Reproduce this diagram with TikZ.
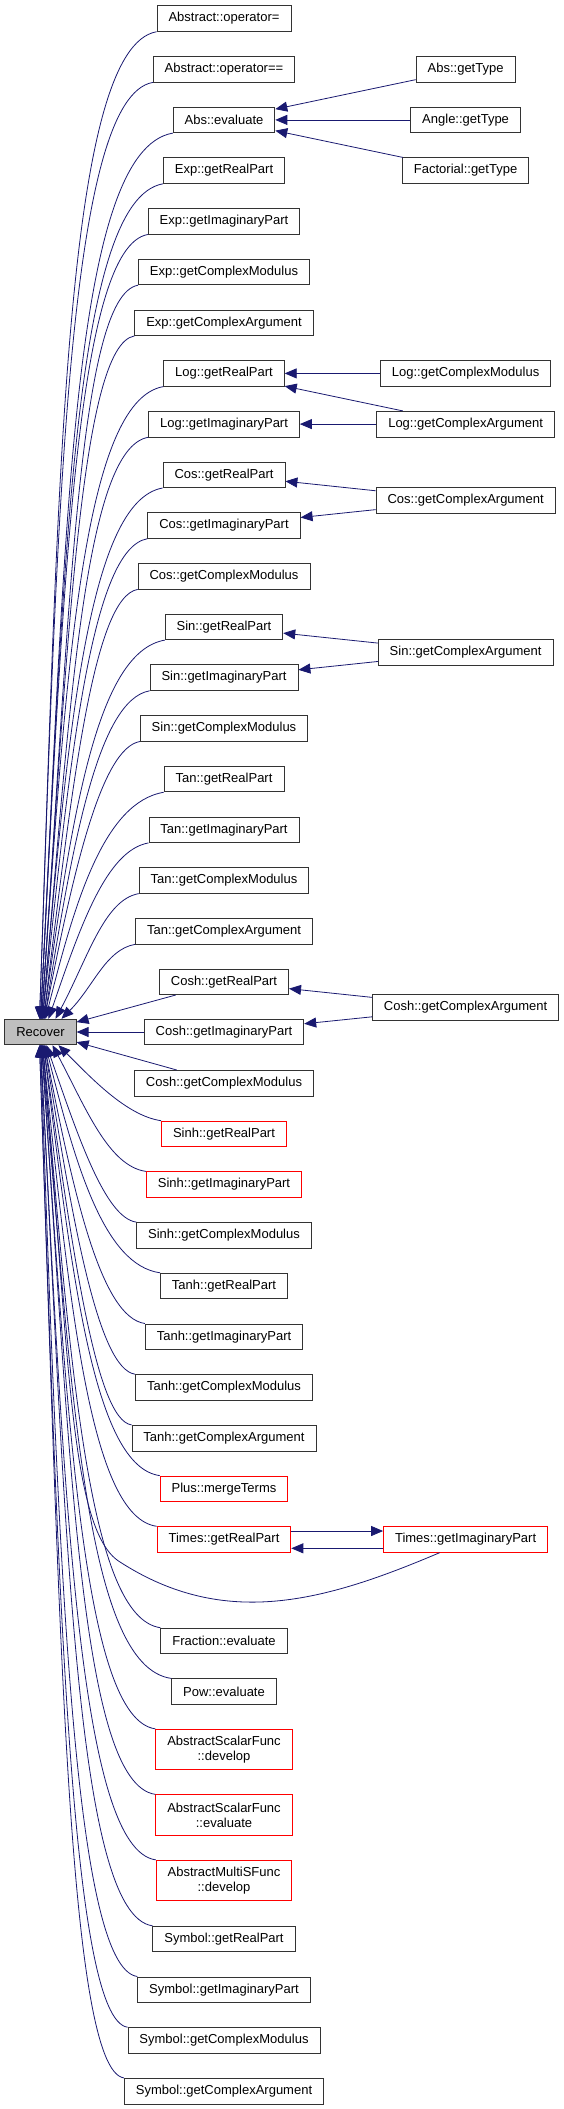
\documentclass[tikz,border=0pt]{standalone}
\usepackage{fontspec}
\setmainfont{Liberation Sans}
\usepackage{xcolor}
\usepackage{tikz}
\usetikzlibrary{arrows.meta, calc}

\definecolor{edgeblue}{HTML}{191970}
\newcommand{\graphfont}{\fontsize{13}{14.7}\selectfont}

\begin{document}
\begin{tikzpicture}[
  x=1pt, y=-1pt,
  fn/.style={draw=black!80, line width=0.8pt, fill=white, inner xsep=11.5pt, inner ysep=0pt, minimum height=25.6pt, font=\graphfont},
  fnred/.style={fn, draw=red},
  fntwo/.style={fnred, align=center, minimum height=40.5pt},
  root/.style={fn, fill=gray!50},
  call/.style={draw=edgeblue, line width=0.8pt, -{Triangle[length=12pt, width=10pt]}},
]
\useasboundingbox (0,0) rectangle (564,2109);

% Root node
\node[root] (recover) at (40.5,1032) {Recover};

% Callers, middle column
\node[fn] (aopeq) at (224,18.5) {Abstract::operator=};
\node[fn] (aopeqeq) at (224,69.2) {Abstract::operator==};
\node[fn] (abseval) at (224,119.9) {Abs::evaluate};
\node[fn] (expre) at (224,170.6) {Exp::getRealPart};
\node[fn] (expim) at (224,221.3) {Exp::getImaginaryPart};
\node[fn] (expmod) at (224,272) {Exp::getComplexModulus};
\node[fn] (exparg) at (224,322.7) {Exp::getComplexArgument};
\node[fn] (logre) at (224,373.4) {Log::getRealPart};
\node[fn] (logim) at (224,424.1) {Log::getImaginaryPart};
\node[fn] (cosre) at (224,474.8) {Cos::getRealPart};
\node[fn] (cosim) at (224,525.5) {Cos::getImaginaryPart};
\node[fn] (cosmod) at (224,576.2) {Cos::getComplexModulus};
\node[fn] (sinre) at (224,626.9) {Sin::getRealPart};
\node[fn] (sinim) at (224,677.6) {Sin::getImaginaryPart};
\node[fn] (sinmod) at (224,728.3) {Sin::getComplexModulus};
\node[fn] (tanre) at (224,779) {Tan::getRealPart};
\node[fn] (tanim) at (224,829.7) {Tan::getImaginaryPart};
\node[fn] (tanmod) at (224,880.4) {Tan::getComplexModulus};
\node[fn] (tanarg) at (224,931.1) {Tan::getComplexArgument};
\node[fn] (coshre) at (224,981.8) {Cosh::getRealPart};
\node[fn] (coshim) at (224,1032) {Cosh::getImaginaryPart};
\node[fn] (coshmod) at (224,1083.2) {Cosh::getComplexModulus};
\node[fnred] (sinhre) at (224,1133.9) {Sinh::getRealPart};
\node[fnred] (sinhim) at (224,1184.6) {Sinh::getImaginaryPart};
\node[fn] (sinhmod) at (224,1235.3) {Sinh::getComplexModulus};
\node[fn] (tanhre) at (224,1286) {Tanh::getRealPart};
\node[fn] (tanhim) at (224,1336.7) {Tanh::getImaginaryPart};
\node[fn] (tanhmod) at (224,1387.4) {Tanh::getComplexModulus};
\node[fn] (tanharg) at (224,1438.1) {Tanh::getComplexArgument};
\node[fnred] (plusmerge) at (224,1488.8) {Plus::mergeTerms};
\node[fnred] (timesre) at (224,1539.5) {Times::getRealPart};
\node[fn] (fraceval) at (224,1640.9) {Fraction::evaluate};
\node[fn] (poweval) at (224,1691.6) {Pow::evaluate};
\node[fntwo] (asfdev) at (224,1749.5) {AbstractScalarFunc\\::develop};
\node[fntwo] (asfeval) at (224,1815) {AbstractScalarFunc\\::evaluate};
\node[fntwo] (amsfdev) at (224,1880.5) {AbstractMultiSFunc\\::develop};
\node[fn] (symre) at (224,1939) {Symbol::getRealPart};
\node[fn] (symim) at (224,1989.7) {Symbol::getImaginaryPart};
\node[fn] (symmod) at (224,2040.4) {Symbol::getComplexModulus};
\node[fn] (symarg) at (224,2091.1) {Symbol::getComplexArgument};

% Callers, right column
\node[fn] (absgt) at (465.6,69.2) {Abs::getType};
\node[fn] (anglegt) at (465.6,119.9) {Angle::getType};
\node[fn] (factgt) at (465.6,170.6) {Factorial::getType};
\node[fn] (logmod) at (465.6,373.4) {Log::getComplexModulus};
\node[fn] (logarg) at (465.6,424.1) {Log::getComplexArgument};
\node[fn] (cosarg) at (465.6,500.2) {Cos::getComplexArgument};
\node[fn] (sinarg) at (465.6,652.3) {Sin::getComplexArgument};
\node[fn] (cosharg) at (465.6,1007.2) {Cosh::getComplexArgument};
\node[fnred] (timesim) at (465.6,1539.5) {Times::getImaginaryPart};

% Edges from above into Recover
\draw[call] (aopeq.south west) to[out=190, in=88, out distance=93pt, in distance=540pt] ([xshift=-1pt]recover.north);
\draw[call] (aopeqeq.south west) to[out=190, in=88, out distance=86pt, in distance=515pt] ([xshift=-1pt]recover.north);
\draw[call] (abseval.south west) to[out=190, in=87, out distance=103pt, in distance=487pt] (recover.north);
\draw[call] (expre.south west) to[out=190, in=87, out distance=91pt, in distance=459pt] (recover.north);
\draw[call] (expim.south west) to[out=190, in=87, out distance=73pt, in distance=431pt] (recover.north);
\draw[call] (expmod.south west) to[out=190, in=86, out distance=61pt, in distance=403pt] ([xshift=1pt]recover.north);
\draw[call] (exparg.south west) to[out=190, in=86, out distance=55pt, in distance=375pt] ([xshift=1pt]recover.north);
\draw[call] (logre.south west) to[out=190, in=86, out distance=82pt, in distance=347pt] ([xshift=1pt]recover.north);
\draw[call] (logim.south west) to[out=190, in=85, out distance=64pt, in distance=320pt] ([xshift=2pt]recover.north);
\draw[call] (cosre.south west) to[out=190, in=85, out distance=75pt, in distance=292pt] ([xshift=2pt]recover.north);
\draw[call] (cosim.south west) to[out=190, in=84, out distance=57pt, in distance=264pt] ([xshift=2pt]recover.north);
\draw[call] (cosmod.south west) to[out=190, in=83, out distance=45pt, in distance=236pt] ([xshift=3pt]recover.north);
\draw[call] (sinre.south west) to[out=190, in=82, out distance=69pt, in distance=208pt] ([xshift=3pt]recover.north);
\draw[call] (sinim.south west) to[out=190, in=81, out distance=52pt, in distance=180pt] ([xshift=4pt]recover.north);
\draw[call] (sinmod.south west) to[out=190, in=79, out distance=39pt, in distance=152pt] ([xshift=4pt]recover.north);
\draw[call] (tanre.south west) to[out=190, in=76, out distance=60pt, in distance=124pt] ([xshift=5pt]recover.north);
\draw[call] (tanim.south west) to[out=190, in=71, out distance=43pt, in distance=97pt] ([xshift=8pt]recover.north);
\draw[call] (tanmod.south west) to[out=190, in=62, out distance=35pt, in distance=69pt] ([xshift=15pt]recover.north);
\draw[call] (tanarg.south west) to[out=190, in=45, out distance=30pt, in distance=45pt] ([xshift=21pt]recover.north);

% Straight edges next to Recover
\draw[call] (coshre) -- (recover);
\draw[call] (coshim) -- (recover);
\draw[call] (coshmod) -- (recover);

% Edges from below into Recover
\draw[call] (sinhre.north west) to[out=172, in=-45, out distance=35pt, in distance=45pt] ([xshift=18pt]recover.south);
\draw[call] (sinhim.north west) to[out=172, in=-62, out distance=38pt, in distance=70pt] ([xshift=12pt]recover.south);
\draw[call] (sinhmod.north west) to[out=172, in=-71, out distance=31pt, in distance=98pt] ([xshift=6pt]recover.south);
\draw[call] (tanhre.north west) to[out=172, in=-76, out distance=56pt, in distance=126pt] ([xshift=5pt]recover.south);
\draw[call] (tanhim.north west) to[out=172, in=-79, out distance=44pt, in distance=154pt] ([xshift=4pt]recover.south);
\draw[call] (tanhmod.north west) to[out=172, in=-81, out distance=37pt, in distance=182pt] ([xshift=4pt]recover.south);
\draw[call] (tanharg.north west) to[out=172, in=-82, out distance=36pt, in distance=210pt] ([xshift=3pt]recover.south);
\draw[call] (plusmerge.north west) to[out=172, in=-83, out distance=66pt, in distance=238pt] ([xshift=3pt]recover.south);
\draw[call] (timesre.north west) to[out=172, in=-84, out distance=67pt, in distance=265pt] ([xshift=2pt]recover.south);
\draw[call] (fraceval.north west) to[out=172, in=-85, out distance=73pt, in distance=321pt] ([xshift=2pt]recover.south);
\draw[call] (poweval.north west) to[out=172, in=-85, out distance=87pt, in distance=349pt] ([xshift=1pt]recover.south);
\draw[call] (asfdev.north west) to[out=172, in=-86, out distance=73pt, in distance=377pt] ([xshift=1pt]recover.south);
\draw[call] (asfeval.north west) to[out=172, in=-86, out distance=76pt, in distance=413pt] ([xshift=1pt]recover.south);
\draw[call] (amsfdev.north west) to[out=172, in=-87, out distance=78pt, in distance=449pt] (recover.south);
\draw[call] (symre.north west) to[out=172, in=-87, out distance=78pt, in distance=485pt] (recover.south);
\draw[call] (symim.north west) to[out=172, in=-88, out distance=65pt, in distance=513pt] (recover.south);
\draw[call] (symmod.north west) to[out=172, in=-88, out distance=58pt, in distance=541pt] ([xshift=-1pt]recover.south);
\draw[call] (symarg.north west) .. controls +(188:57) and +(88:569) .. ([xshift=-1pt]recover.south);

% Right column edges
\draw[call] (absgt) -- (abseval);
\draw[call] (anglegt) -- (abseval);
\draw[call] (factgt) -- (abseval);
\draw[call] (logmod) -- (logre);
\draw[call] (logarg) -- (logre);
\draw[call] (logarg) -- (logim);
\draw[call] (cosarg) -- (cosre);
\draw[call] (cosarg) -- (cosim);
\draw[call] (sinarg) -- (sinre);
\draw[call] (sinarg) -- (sinim);
\draw[call] (cosharg) -- (coshre);
\draw[call] (cosharg) -- (coshim);

% Times pair and the long loop back
\draw[call] ([yshift=8.5pt]timesre.east) -- ([yshift=8.5pt]timesim.west);
\draw[call] ([yshift=-8.8pt]timesim.west) -- ([yshift=-8.8pt]timesre.east);
\draw[call] ([xshift=-26pt]timesim.south) to[out=203, in=-33] ++(-320.5,8.7)
  to[out=147, in=-85, out distance=60pt, in distance=300pt] ([xshift=2pt]recover.south);
\end{tikzpicture}
\end{document}
